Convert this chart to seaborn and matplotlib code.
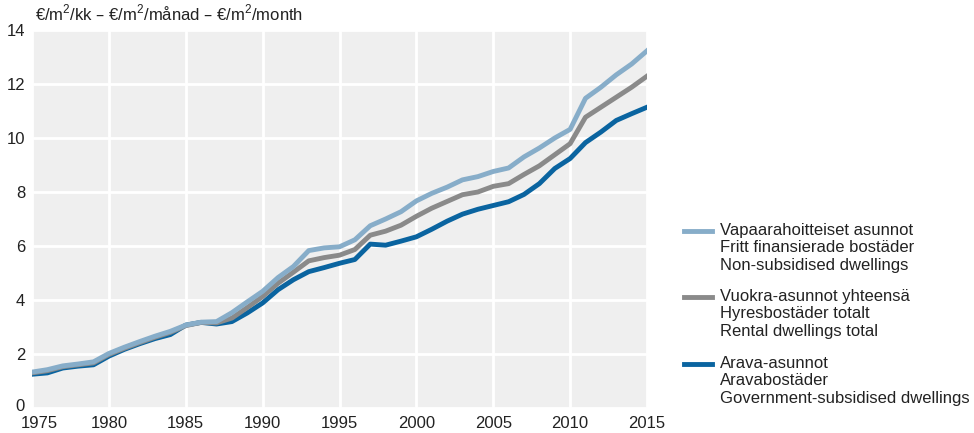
import numpy as np
import pandas as pd
import matplotlib
matplotlib.use("Agg")
import matplotlib.pyplot as plt
import matplotlib.transforms as mtransforms
from matplotlib.lines import Line2D
import seaborn as sns

years = list(range(1975, 2016))

non_subsidised = [1.33, 1.42, 1.56, 1.63, 1.71, 2.02, 2.25, 2.46, 2.66, 2.84,
                  3.07, 3.18, 3.20, 3.53, 3.93, 4.32, 4.83, 5.24, 5.83, 5.93,
                  5.97, 6.23, 6.75, 7.00, 7.27, 7.67, 7.95, 8.18, 8.45, 8.57,
                  8.76, 8.89, 9.30, 9.63, 10.00, 10.32, 11.47, 11.88, 12.34, 12.74,
                  13.23]

rental_total = [1.30, 1.38, 1.53, 1.60, 1.67, 1.98, 2.21, 2.42, 2.62, 2.80,
                3.05, 3.17, 3.15, 3.33, 3.72, 4.13, 4.62, 5.03, 5.45, 5.57,
                5.66, 5.87, 6.40, 6.55, 6.77, 7.10, 7.40, 7.65, 7.90, 8.00,
                8.21, 8.31, 8.65, 8.97, 9.38, 9.79, 10.77, 11.14, 11.51, 11.88,
                12.29]

arava = [1.25, 1.30, 1.48, 1.55, 1.60, 1.92, 2.17, 2.38, 2.57, 2.72,
         3.07, 3.17, 3.11, 3.20, 3.52, 3.89, 4.38, 4.75, 5.05, 5.20,
         5.36, 5.50, 6.07, 6.03, 6.18, 6.34, 6.62, 6.92, 7.18, 7.36,
         7.50, 7.64, 7.91, 8.31, 8.87, 9.24, 9.83, 10.22, 10.65, 10.90,
         11.14]

labels = [
    "Vapaarahoitteiset asunnot\nFritt finansierade bostäder\nNon-subsidised dwellings",
    "Vuokra-asunnot yhteensä\nHyresbostäder totalt\nRental dwellings total",
    "Arava-asunnot\nAravabostäder\nGovernment-subsidised dwellings",
]
colors = ["#87adc9", "#8a8a8a", "#0a64a0"]
y_label = r"€/m$^\mathregular{2}$/kk – €/m$^\mathregular{2}$/månad – €/m$^\mathregular{2}$/month"
x_ticks = [1975, 1980, 1985, 1990, 1995, 2000, 2005, 2010, 2015]
y_ticks = [0, 2, 4, 6, 8, 10, 12, 14]

plt.rcParams["font.family"] = ["Liberation Sans", "DejaVu Sans"]

W, H = 974, 433
fig = plt.figure(figsize=(W / 100, H / 100), dpi=100)
ax = fig.add_axes([32 / W, 1 - 408 / H, (647 - 32) / W, (408 - 30) / H])
ax.set_facecolor("#efefef")

series = [non_subsidised, rental_total, arava]
# draw bottom to top: arava, total, non-subsidised
for idx in [2, 1, 0]:
    df = pd.DataFrame({"year": years, "value": series[idx]})
    sns.lineplot(data=df, x="year", y="value", ax=ax, color=colors[idx],
                 linewidth=3.5, zorder=3 + (2 - idx))

ax.set_xlim(1975, 2015)
ax.set_ylim(0, 14)
ax.set_xticks(x_ticks)
ax.set_yticks(y_ticks)
ax.set_xticklabels([str(v) for v in x_ticks])
ax.set_yticklabels([str(v) for v in y_ticks])
ax.grid(True, color="white", linewidth=2.0, zorder=1)
ax.set_axisbelow(True)
for s in ax.spines.values():
    s.set_visible(False)
ax.tick_params(axis="both", length=0, labelsize=12, colors="#222222")
ax.tick_params(axis="x", pad=6)
ax.tick_params(axis="y", pad=5)
ax.set_xlabel("")
ax.set_ylabel("")

# nudge first x label right and bottom y label up, as in the reference
xl0 = ax.get_xticklabels()[0]
xl0.set_transform(xl0.get_transform() +
                  mtransforms.ScaledTranslation(7 / 100, 0, fig.dpi_scale_trans))
yl0 = ax.get_yticklabels()[0]
yl0.set_transform(yl0.get_transform() +
                  mtransforms.ScaledTranslation(0, 3 / 100, fig.dpi_scale_trans))

fig.text(35 / W, 1 - 20 / H, y_label, fontsize=12, color="#222222",
         ha="left", va="baseline")

# legend, handle aligned with the first text line
leg_top = [231, 297, 364]
for lab, col, yy in zip(labels, colors, leg_top):
    yf = 1 - yy / H
    fig.add_artist(Line2D([684 / W, 712 / W], [yf, yf], color=col,
                          linewidth=3.5, transform=fig.transFigure))
    fig.text(720 / W, 1 - (yy - 8) / H, lab, fontsize=12, color="#222222",
             ha="left", va="top", linespacing=1.2)

fig.savefig("out.png", dpi=100)
